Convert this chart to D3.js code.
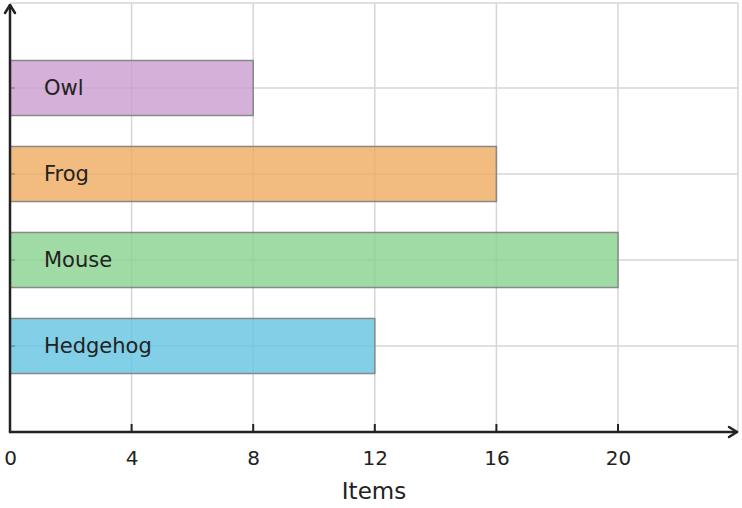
<!DOCTYPE html>
<html>
<head>
<meta charset="utf-8">
<script src="https://cdn.jsdelivr.net/npm/d3@7"></script>
<style>
  body { margin: 0; background: #fff; }
  svg { display: block; font-family: "DejaVu Sans", sans-serif; }
</style>
</head>
<body>
<div class="chart-container"></div>
<script>
const animals = ["Hedgehog", "Mouse", "Frog", "Owl"];
const items = [12, 20, 16, 8];
const fills = ["#63c3e2", "#88d18d", "#efaa60", "#ca9cd0"];
const xTicks = [0, 4, 8, 12, 16, 20];

const w = 742;
const h = 508;
const left = 10;
const bottom = 432;

const svg = d3.select(".chart-container")
    .append("svg")
    .attr("width", w)
    .attr("height", h);

const xScale = d3.scaleLinear()
    .domain([0, 24])
    .range([left, 739.6]);

// bands sit on integer positions 1..4, axis spans 0..5
const yScale = d3.scaleLinear()
    .domain([0, 5])
    .range([bottom, 2]);

const barH = (yScale(0) - yScale(1)) * 0.64;

// grid
const grid = svg.append("g")
    .attr("stroke", "#d6d6d6")
    .attr("stroke-width", 1.5)
    .attr("fill", "none");

grid.selectAll("line.vx")
    .data(xTicks.slice(1).concat([24]))
    .enter()
    .append("line")
    .attr("x1", d => xScale(d) > 738 ? 738 : xScale(d))
    .attr("x2", d => xScale(d) > 738 ? 738 : xScale(d))
    .attr("y1", bottom)
    .attr("y2", 3);

grid.selectAll("line.hy")
    .data(animals)
    .enter()
    .append("line")
    .attr("x1", left)
    .attr("x2", 738)
    .attr("y1", (d, i) => yScale(i + 1))
    .attr("y2", (d, i) => yScale(i + 1));

grid.append("line")
    .attr("x1", left).attr("x2", 738)
    .attr("y1", 3).attr("y2", 3);

// bars
svg.selectAll("rect.bar")
    .data(items)
    .enter()
    .append("rect")
    .attr("class", "bar")
    .attr("x", xScale(0))
    .attr("y", (d, i) => yScale(i + 1) - barH / 2)
    .attr("width", d => xScale(d) - xScale(0))
    .attr("height", barH)
    .attr("fill", (d, i) => fills[i])
    .attr("fill-opacity", 0.8)
    .attr("stroke", "#888")
    .attr("stroke-width", 1.5);

// small coloured ticks on y axis
svg.selectAll("line.ytick")
    .data(animals)
    .enter()
    .append("line")
    .attr("x1", left)
    .attr("x2", left + 5)
    .attr("y1", (d, i) => yScale(i + 1))
    .attr("y2", (d, i) => yScale(i + 1))
    .attr("stroke", (d, i) => d3.color(fills[i]).darker(0.6))
    .attr("stroke-width", 1.5);

// bar labels
svg.selectAll("text.lbl")
    .data(animals)
    .enter()
    .append("text")
    .attr("x", 44)
    .attr("y", (d, i) => yScale(i + 1))
    .attr("dy", "0.33em")
    .style("font-size", "21px")
    .attr("fill", "#222")
    .text(d => d);

// x axis
const xAxis = d3.axisBottom(xScale)
    .tickValues(xTicks)
    .tickSize(0)
    .tickPadding(0);

const gx = svg.append("g")
    .attr("transform", `translate(0,${bottom})`)
    .call(xAxis);
gx.select(".domain").remove();
gx.selectAll("text")
    .attr("y", 33)
    .attr("dy", null)
    .style("font-size", "20px")
    .style("font-family", "DejaVu Sans, sans-serif")
    .attr("fill", "#222");

svg.selectAll("line.xtick")
    .data(xTicks.slice(1))
    .enter()
    .append("line")
    .attr("x1", d => xScale(d))
    .attr("x2", d => xScale(d))
    .attr("y1", bottom)
    .attr("y2", bottom - 8)
    .attr("stroke", "#222")
    .attr("stroke-width", 2);

// axis lines with arrows
const axisG = svg.append("g")
    .attr("stroke", "#222")
    .attr("stroke-width", 2.5)
    .attr("fill", "none")
    .attr("stroke-linecap", "round")
    .attr("stroke-linejoin", "round");

axisG.append("line")
    .attr("x1", left).attr("y1", bottom)
    .attr("x2", 737).attr("y2", bottom);
axisG.append("path")
    .attr("d", `M729,${bottom - 5}L737,${bottom}L729,${bottom + 5}`);

axisG.append("line")
    .attr("x1", left).attr("y1", bottom)
    .attr("x2", left).attr("y2", 5);
axisG.append("path")
    .attr("d", `M${left - 5},13L${left},5L${left + 5},13`);

svg.append("text")
    .attr("x", (xScale(0) + 738) / 2)
    .attr("y", 499)
    .attr("text-anchor", "middle")
    .style("font-size", "23px")
    .attr("fill", "#222")
    .text("Items");
</script>
</body>
</html>
